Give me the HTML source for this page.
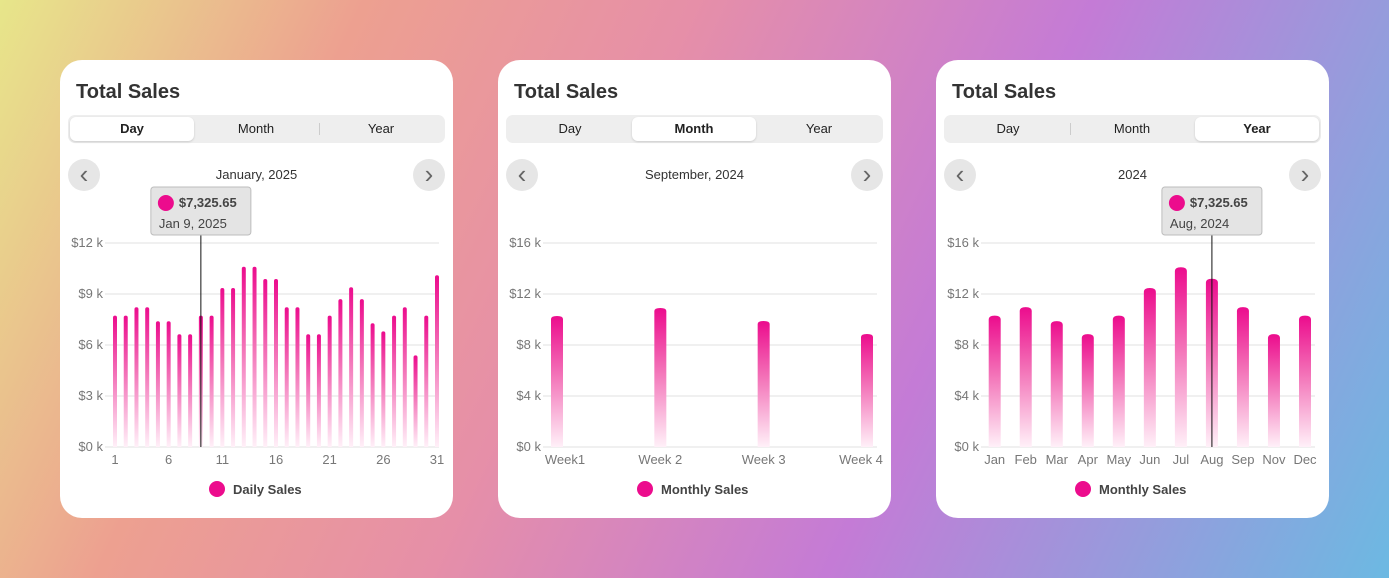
<!DOCTYPE html>
<html><head><meta charset="utf-8">
<style>
*{box-sizing:border-box;margin:0;padding:0}
body{width:1389px;height:578px;overflow:hidden;font-family:"Liberation Sans",sans-serif;
background:linear-gradient(115deg,#e7e68a 0%,#eda090 22%,#e68fa8 42%,#c47bd6 66%,#6cb9e2 100%);position:relative}
.card{position:absolute;top:60px;width:393px;height:458px;background:#fff;border-radius:22px}
.title{position:absolute;left:16px;top:21px;font-size:20px;font-weight:bold;color:#333}
.seg{position:absolute;left:8px;top:55px;width:377px;height:28px;background:#eeeeee;border-radius:7px}
.opt{position:absolute;top:2px;height:24px;width:124px;text-align:center;line-height:24px;font-size:13px;color:#222}
.opt.on{background:#fff;border-radius:6px;box-shadow:0 1px 2px rgba(0,0,0,.15);font-weight:bold}
.sep{position:absolute;top:8px;width:1px;height:12px;background:#ccc}
.nav{position:absolute;top:99px;width:32px;height:32px;border-radius:50%;background:#e6e6e6;color:#666;text-align:center;line-height:30px;font-size:26px}
.period{position:absolute;top:107px;left:0;width:393px;text-align:center;font-size:13px;color:#333}
svg{position:absolute;left:0;top:0}
</style></head><body>
<div class="card" id="c1" style="left:60px">
 <div class="title">Total Sales</div>
 <div class="seg">
  <div class="opt on" style="left:2px">Day</div>
  <div class="opt" style="left:126px">Month</div>
  <div class="sep" style="left:251px"></div>
  <div class="opt" style="left:251px">Year</div>
 </div>
 <div class="nav" style="left:8px">‹</div>
 <div class="period">January, 2025</div>
 <div class="nav" style="left:353px">›</div>
</div>
<div class="card" id="c2" style="left:498px">
 <div class="title">Total Sales</div>
 <div class="seg">
  <div class="opt" style="left:2px">Day</div>
  <div class="opt on" style="left:126px">Month</div>
  <div class="opt" style="left:251px">Year</div>
 </div>
 <div class="nav" style="left:8px">‹</div>
 <div class="period">September, 2024</div>
 <div class="nav" style="left:353px">›</div>
</div>
<div class="card" id="c3" style="left:936px">
 <div class="title">Total Sales</div>
 <div class="seg">
  <div class="opt" style="left:2px">Day</div>
  <div class="sep" style="left:126px"></div>
  <div class="opt" style="left:126px">Month</div>
  <div class="opt on" style="left:251px">Year</div>
 </div>
 <div class="nav" style="left:8px">‹</div>
 <div class="period">2024</div>
 <div class="nav" style="left:353px">›</div>
</div>
<script>
const dayCategories=[];for(let i=1;i<=31;i++)dayCategories.push(String(i));
const dayValues=[7.73,7.73,8.22,8.22,7.4,7.4,6.63,6.63,7.73,7.73,9.35,9.35,10.6,10.6,9.88,9.88,8.22,8.22,6.63,6.63,7.73,8.7,9.4,8.7,7.28,6.8,7.73,8.22,5.39,7.73,10.1];
const dayTicks=[0,3,6,9,12];
const dayTickLabels=["$0 k","$3 k","$6 k","$9 k","$12 k"];
const dayXLabels=["1","6","11","16","21","26","31"];
const weekCategories=["Week1","Week 2","Week 3","Week 4"];
const weekValues=[10.27,10.9,9.88,8.86];
const monthCategories=["Jan","Feb","Mar","Apr","May","Jun","Jul","Aug","Sep","Nov","Dec"];
const monthValues=[10.3,10.97,9.87,8.85,10.3,12.47,14.1,13.2,10.97,8.85,10.3];
const kTicks=[0,4,8,12,16];
const kTickLabels=["$0 k","$4 k","$8 k","$12 k","$16 k"];

const NS="http://www.w3.org/2000/svg";
function mk(tag,attrs,parent){const e=document.createElementNS(NS,tag);for(const k in attrs)e.setAttribute(k,attrs[k]);parent.appendChild(e);return e;}
function chart(cardId,o){
 const card=document.getElementById(cardId);
 const svg=mk('svg',{width:393,height:458},card);
 
 
 const defs=mk('defs',{},svg);
 const g=mk('linearGradient',{id:'g'+cardId,x1:0,y1:0,x2:0,y2:1},defs);
 mk('stop',{offset:'0','stop-color':'#ec0c8d'},g);
 mk('stop',{offset:'0.45','stop-color':'#f373b8'},g);
 mk('stop',{offset:'1','stop-color':'#fff0f8'},g);
 const y0=387,y1=183,max=o.ticks[o.ticks.length-1];
 const yS=v=>y0-(v/max)*(y0-y1);
 const n=o.cats.length;
 const xS=i=>o.xa+i*(o.xb-o.xa)/(n-1);
 o.ticks.forEach((t,i)=>{
  const l=mk('line',{x1:45,x2:379,y1:yS(t),y2:yS(t),stroke:'#e2e2e2','stroke-width':1},svg);
  
  
  const tx=mk('text',{x:43,y:yS(t)+4,'text-anchor':'end','font-size':13,fill:'#777'},svg);
  tx.textContent=o.tickLabels[i];
  
  
 });
 o.vals.forEach((v,i)=>{
  const x=xS(i),y=yS(v);
  const r=mk('path',{d:`M${x-o.w/2},${y0}V${y+o.r}Q${x-o.w/2},${y} ${x},${y}Q${x+o.w/2},${y} ${x+o.w/2},${y+o.r}V${y0}Z`,fill:`url(#g${cardId})`},svg);
  
  
 });
 o.xl.forEach(([idx,lab])=>{
  let anchor='middle',x=xS(idx)+(o.xoff?o.xoff[idx]:0);
  const tx=mk('text',{x:x,y:404,'text-anchor':anchor,'font-size':13,fill:'#777'},svg);
  tx.textContent=lab;
  
  
 });
 if(o.tip!=null){
  const x=xS(o.tip);
  const ln=mk('line',{x1:x,x2:x,y1:175,y2:y0,stroke:'#111','stroke-width':1},svg);
  
  
  const tg=mk('g',{},svg);
  
  
  mk('rect',{x:x-50,y:127,width:100,height:48,rx:3,fill:'#e4e4e4',stroke:'#bdbdbd'},tg);
  mk('circle',{cx:x-35,cy:143,r:8,fill:'#ec0c8d'},tg);
  const t1=mk('text',{x:x-22,y:147,'font-size':13,'font-weight':'bold',fill:'#444'},tg);t1.textContent=o.tipVal;
  const t2=mk('text',{x:x-42,y:168,'font-size':13,fill:'#444'},tg);t2.textContent=o.tipLab;
 }
 const lg=mk('g',{},svg);
 
 
 mk('circle',{cx:o.lgx,cy:429,r:8,fill:'#ec0c8d'},lg);
 const lt=mk('text',{x:o.lgx+16,y:434,'font-size':13,'font-weight':'bold',fill:'#444'},lg);lt.textContent=o.legend;
}
chart('c1',{cats:dayCategories,vals:dayValues,ticks:dayTicks,tickLabels:dayTickLabels,xa:55,xb:377,w:4,r:2,
 xl:dayXLabels.map(l=>[dayCategories.indexOf(l),l]),tip:8,tipVal:'$7,325.65',tipLab:'Jan 9, 2025',legend:'Daily Sales',lgx:157});
chart('c2',{cats:weekCategories,vals:weekValues,ticks:kTicks,tickLabels:kTickLabels,xa:59,xb:369,w:12,r:3,
 xl:weekCategories.map((l,i)=>[i,l]),xoff:[8,0,0,-6],tip:null,legend:'Monthly Sales',lgx:147});
chart('c3',{cats:monthCategories,vals:monthValues,ticks:kTicks,tickLabels:kTickLabels,xa:58.7,xb:369,w:12,r:4,
 xl:monthCategories.map((l,i)=>[i,l]),tip:7,tipVal:'$7,325.65',tipLab:'Aug, 2024',legend:'Monthly Sales',lgx:147});
</script>
</body></html>
